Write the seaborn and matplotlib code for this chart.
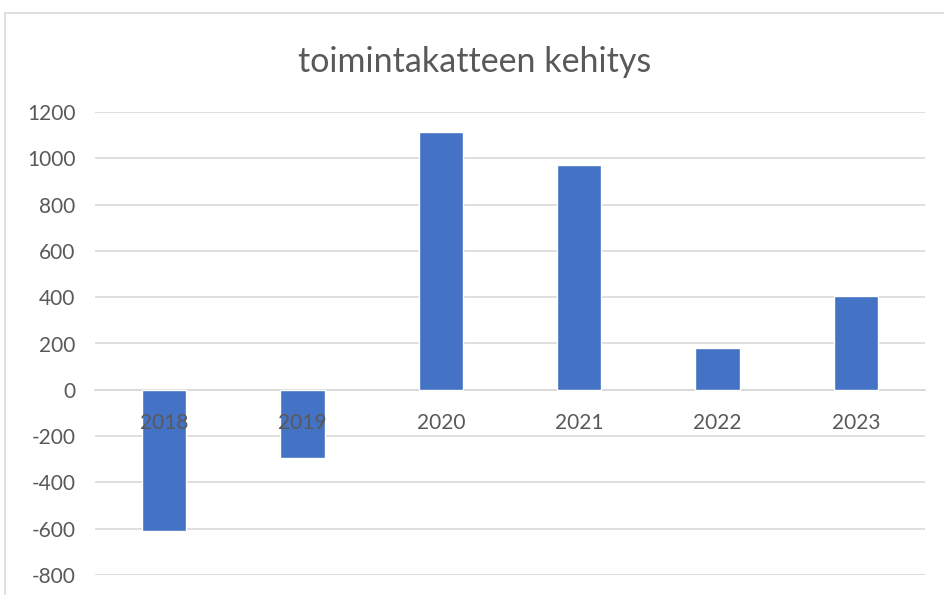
import matplotlib
matplotlib.use("Agg")
import matplotlib.pyplot as plt
import seaborn as sns
import pandas as pd
from matplotlib.patches import Rectangle

# ==========================================================
# DATA
# ==========================================================

years = ["2018", "2019", "2020", "2021", "2022", "2023"]
values = [-608, -295, 1112, 970, 182, 406]
y_ticks = [-800, -600, -400, -200, 0, 200, 400, 600, 800, 1000, 1200]
title = "toimintakatteen kehitys"

df = pd.DataFrame({"year": years, "value": values})

sns.set_theme(style="whitegrid")
plt.rcParams["font.family"] = ["Lato", "DejaVu Sans"]
plt.rcParams["axes.unicode_minus"] = False

text_color = "#595959"
grid_color = "#D9D9D9"
bar_color = "#4472C4"

# ==========================================================
# PLOT
# ==========================================================

fig = plt.figure(figsize=(9.44, 5.95), dpi=100)
ax = fig.add_axes([95 / 944, 20 / 595, 830 / 944, 463 / 595])

sns.barplot(
    data=df,
    x="year",
    y="value",
    color=bar_color,
    width=0.32,
    saturation=1,
    ax=ax
)

ax.set_ylim(-800, 1200)
ax.set_yticks(y_ticks)
ax.set_xlabel("")
ax.set_ylabel("")

ax.grid(axis="y", color=grid_color, linewidth=1.2)
ax.grid(axis="x", visible=False)
ax.set_axisbelow(True)
ax.xaxis.set_zorder(3)

for side in ["top", "right", "left"]:
    ax.spines[side].set_visible(False)
ax.spines["bottom"].set_position(("data", 0))
ax.spines["bottom"].set_color(grid_color)
ax.spines["bottom"].set_linewidth(1.2)
ax.spines["bottom"].set_zorder(0.6)

ax.tick_params(axis="y", length=0, pad=14, labelsize=15, labelcolor=text_color)
ax.tick_params(axis="x", length=0, pad=17, labelsize=15, labelcolor=text_color)

fig.text(475 / 944, 1 - 62 / 595, title, ha="center", va="center",
         fontsize=24.5, color=text_color)

# chart area border
fig.patches.append(Rectangle((5 / 944, -0.1), 1.2, 1 - 13 / 595 + 0.1,
                             transform=fig.transFigure, fill=False,
                             edgecolor=grid_color, linewidth=1.2))

fig.savefig("out.png", dpi=100)
